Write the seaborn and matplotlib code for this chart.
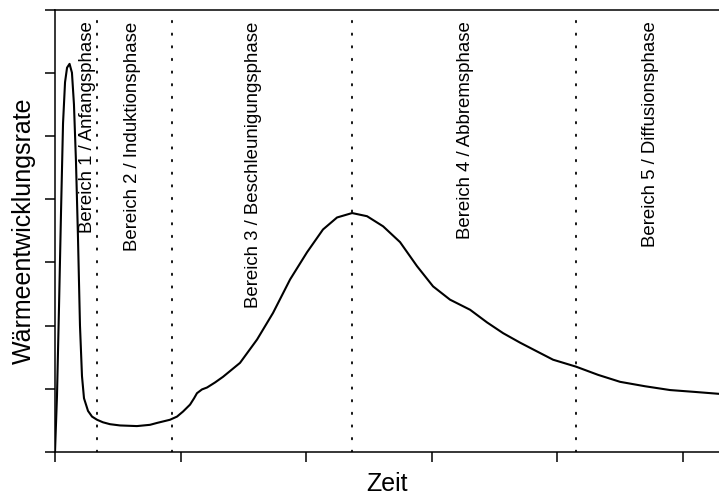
import matplotlib
matplotlib.use("Agg")
import matplotlib.pyplot as plt
import seaborn as sns
import pandas as pd

# Data
zeit = [0.0, 0.016, 0.032, 0.048, 0.064, 0.080, 0.096, 0.116, 0.135, 0.151,
        0.167, 0.183, 0.199, 0.215, 0.231, 0.263, 0.295, 0.335, 0.382, 0.438,
        0.518, 0.653, 0.757, 0.813, 0.916, 0.972, 1.020, 1.076, 1.108, 1.131,
        1.171, 1.211, 1.275, 1.339, 1.474, 1.610, 1.737, 1.873, 2.008, 2.135,
        2.247, 2.367, 2.486, 2.614, 2.749, 2.884, 3.012, 3.147, 3.227, 3.307,
        3.442, 3.570, 3.705, 3.841, 3.968, 4.151, 4.327, 4.502, 4.701, 4.900,
        5.100, 5.291]
rate = [0.0, 0.9, 2.3, 3.8, 5.2, 5.85, 6.08, 6.14, 6.0, 5.5,
        4.6, 3.4, 2.0, 1.2, 0.85, 0.65, 0.56, 0.51, 0.47, 0.44,
        0.42, 0.41, 0.43, 0.46, 0.51, 0.56, 0.64, 0.75, 0.85, 0.93,
        0.99, 1.02, 1.1, 1.19, 1.41, 1.78, 2.2, 2.73, 3.16, 3.52,
        3.71, 3.78, 3.73, 3.57, 3.32, 2.94, 2.62, 2.41, 2.33, 2.25,
        2.05, 1.88, 1.73, 1.59, 1.46, 1.35, 1.22, 1.11, 1.04, 0.98,
        0.95, 0.92]
grenzen = [0.335, 0.93, 2.37, 4.15]
bereich_labels = ["Bereich 1 / Anfangsphase", "Bereich 2 / Induktionsphase",
                  "Bereich 3 / Beschleunigungsphase", "Bereich 4 / Abbremsphase",
                  "Bereich 5 / Diffusionsphase"]
label_x = [0.255, 0.614, 1.578, 3.267, 4.741]
x_ticks = [0, 1, 2, 3, 4, 5]
y_ticks = [0, 1, 2, 3, 4, 5, 6, 7]

sns.set_style("ticks")
plt.rcParams['font.family'] = ['Liberation Sans', 'DejaVu Sans']
plt.rcParams['text.color'] = 'black'
plt.rcParams['axes.labelcolor'] = 'black'

W, H = 719, 495
fig = plt.figure(figsize=(W / 100, H / 100), dpi=100)
left, right, top, bottom = 55, 719, 9.5, 452
ax = fig.add_axes([left / W, (H - bottom) / H, (right - left) / W, (bottom - top) / H])

df = pd.DataFrame({"Zeit": zeit, "Rate": rate})
sns.lineplot(data=df, x="Zeit", y="Rate", ax=ax, color="black", linewidth=1.5,
             sort=False, estimator=None)
ax.lines[0].set_solid_joinstyle("round")

for g in grenzen:
    ax.axvline(g, color="black", linewidth=1.3, linestyle=(0, (0.8, 6.2)),
               dash_capstyle="round")

for lx, lab in zip(label_x, bereich_labels):
    ax.text(lx, 6.81, lab, rotation=90, ha="center", va="top", fontsize=13.4,
            color="black")

ax.set_xlim(0, 5.29)
ax.set_ylim(0, 7)
ax.set_xticks(x_ticks)
ax.set_yticks(y_ticks)
ax.set_xticklabels([])
ax.set_yticklabels([])
ax.tick_params(axis="both", direction="out", length=7.2, width=1.1, color="black")

for s in ["left", "bottom", "top"]:
    ax.spines[s].set_visible(True)
    ax.spines[s].set_linewidth(1.1)
    ax.spines[s].set_color("black")
ax.spines["right"].set_visible(False)

ax.set_xlabel("Zeit", fontsize=18, color="black")
ax.set_ylabel("Wärmeentwicklungsrate", fontsize=18, color="black")
ax.xaxis.label.set_va("center")
ax.yaxis.label.set_va("center")
ax.xaxis.set_label_coords(0.5, (bottom - 484) / (bottom - top))
ax.yaxis.set_label_coords((24 - left) / (right - left), 0.5)

fig.savefig("out.png", dpi=100)
